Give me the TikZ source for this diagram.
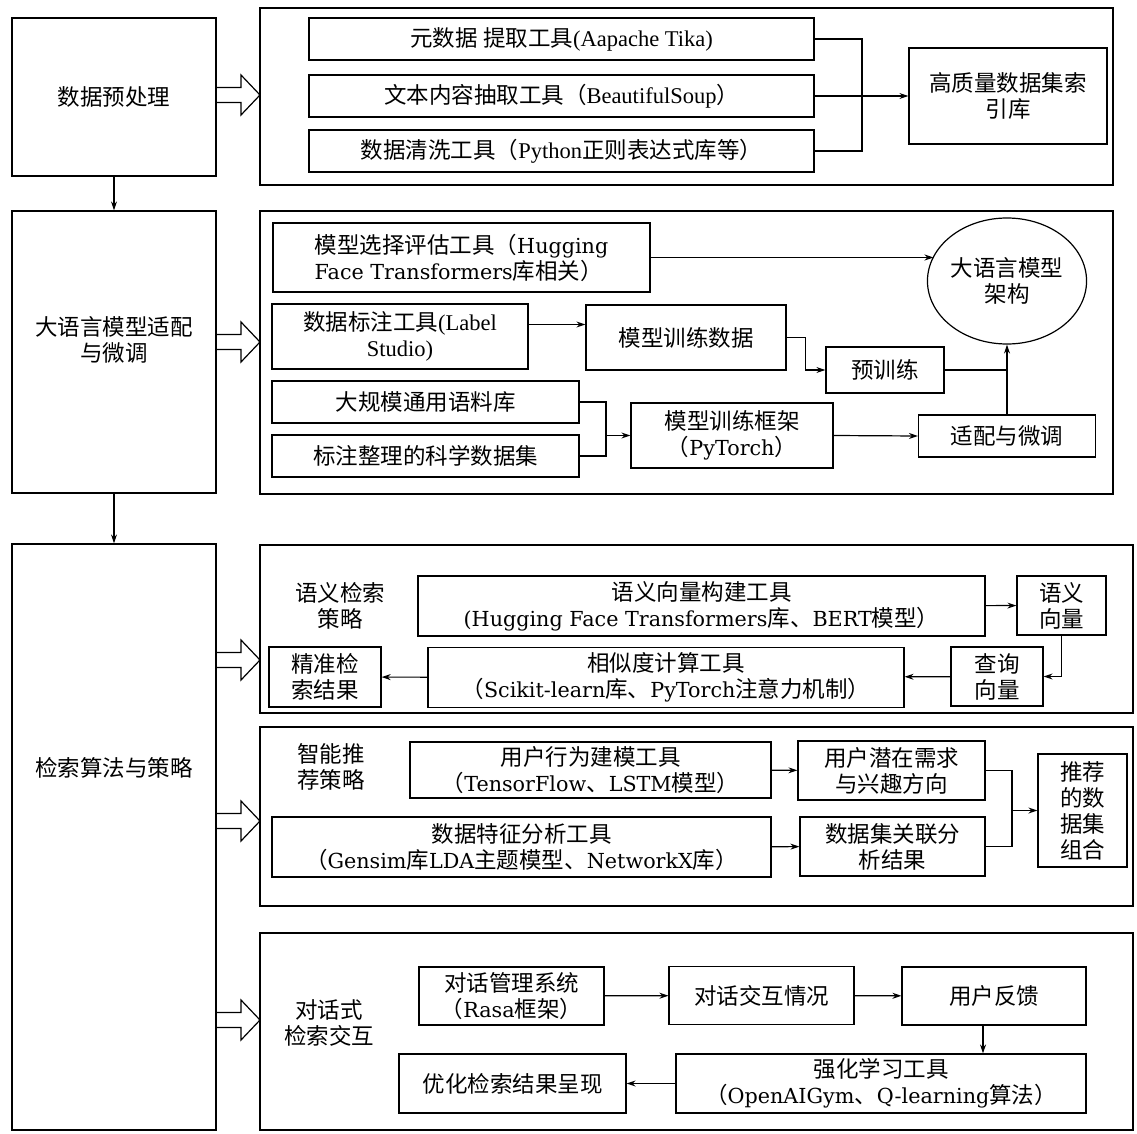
\documentclass[tikz,border=0pt]{standalone}
\usepackage{fontspec}
\setmainfont{DejaVu Serif}[Scale=0.92]
\newfontfamily\cjk{Noto Sans CJK SC}
\newfontfamily\timesf{Liberation Serif}
\usetikzlibrary{shapes.geometric,arrows.meta}

% Chinese characters are switched to the CJK family
\XeTeXinterchartokenstate=1
\newXeTeXintercharclass\cjkclass
\newcount\cjkcode
\def\setcjkrange#1#2{\cjkcode=#1\relax
  \loop\ifnum\cjkcode<#2\relax
    \XeTeXcharclass\cjkcode=\cjkclass
    \advance\cjkcode by 1
  \repeat}
\setcjkrange{"3000}{"3040}
\setcjkrange{"4E00}{"A000}
\setcjkrange{"FF00}{"FF60}
\XeTeXinterchartoks 0 \cjkclass = {\begingroup\cjk}
\XeTeXinterchartoks 4095 \cjkclass = {\begingroup\cjk}
\XeTeXinterchartoks \cjkclass 0 = {\endgroup}
\XeTeXinterchartoks \cjkclass 4095 = {\endgroup}

\begin{document}
\begin{tikzpicture}[x=1pt, y=-1pt, >={Stealth[length=9pt,width=6pt]}]
  \tikzstyle{every node} = [font=\fontsize{22.5}{26}\selectfont]
  \tikzstyle{main} = [rectangle, draw, line width=1.2pt, minimum width=204pt]
  \tikzstyle{back} = [rectangle, draw, line width=1.2pt]
  \tikzstyle{tool} = [rectangle, draw, line width=1.2pt, align=center, inner sep=1pt]
  \tikzstyle{tnr} = [font=\timesf\fontsize{22.5}{26}\selectfont]
  \tikzstyle{plain} = [align=center, inner sep=0pt]
  \tikzstyle{link} = [line width=1.2pt]
  \tikzstyle{hollow} = [draw, line width=1.2pt]
\useasboundingbox (0,0) rectangle (1137,1134);
% left column
\node[main, minimum height=158pt] (prep) at (114,97) {数据预处理};
\node[main, minimum height=282pt, label={[yshift=12pt, align=center]center:大语言模型适配\\与微调}] (llm) at (114,352) {};
\node[main, minimum height=586pt, label={[yshift=69pt]center:检索算法与策略}] (ret) at (114,837) {};
\draw[->, link] (prep) -- (llm);
\draw[->, link] (llm) -- (ret);
% panels
\node[back, minimum width=853pt, minimum height=177pt] (pa) at (686.5,96.5) {};
\node[back, minimum width=853pt, minimum height=283pt] (pb) at (686.5,352.5) {};
\node[back, minimum width=873pt, minimum height=168pt] (pc) at (696.5,629) {};
\node[back, minimum width=873pt, minimum height=179pt] (pd) at (696.5,816.5) {};
\node[back, minimum width=873pt, minimum height=197pt] (pe) at (696.5,1031.5) {};
\foreach \y in {95,342,660,821,1020}
  \draw[hollow] (216,\y-7.5) -- (241,\y-7.5) -- (241,\y-20) -- (260,\y) -- (241,\y+20) -- (241,\y+7.5) -- (216,\y+7.5);
% data preprocessing
\node[tool, tnr, minimum width=505pt, minimum height=42pt] (meta) at (561.5,39) {元数据 提取工具(Aapache Tika)};
\node[tool, tnr, minimum width=505pt, minimum height=42pt] (extract) at (561.5,96) {文本内容抽取工具（BeautifulSoup）};
\node[tool, tnr, minimum width=505pt, minimum height=42pt] (clean) at (561.5,151) {数据清洗工具（Python正则表达式库等）};
\node[tool, minimum width=198pt, minimum height=96pt] (index) at (1008,96) {高质量数据集索\\引库};
\coordinate (m1) at (862,96);
\draw[link] (meta) -| (m1);
\draw[link] (clean) -| (m1);
\draw[->, link] (extract) -- (index);
% model adaptation
\node[tool, align=left, minimum width=377pt, minimum height=69pt] (select) at (461.5,257.5) {模型选择评估工具（Hugging\\Face Transformers库相关）};
\node[ellipse, draw, link, minimum width=154pt, minimum height=126pt, align=center, inner sep=0pt] (arch) at (1007,281) {大语言模型\\架构};
\node[tool, tnr, minimum width=256pt, minimum height=65pt] (label) at (400,336.5) {数据标注工具(Label\\Studio)};
\node[tool, minimum width=200pt, minimum height=65pt] (data) at (686,337.5) {模型训练数据};
\node[tool, minimum width=118pt, minimum height=46pt] (pretrain) at (885,370) {预训练};
\node[tool, minimum width=307pt, minimum height=42pt] (corpus) at (425.5,402) {大规模通用语料库};
\node[tool, minimum width=307pt, minimum height=42pt] (sci) at (425.5,456) {标注整理的科学数据集};
\node[tool, minimum width=202pt, minimum height=65pt] (frame) at (732,435.5) {模型训练框架\\（PyTorch）};
\node[tool, minimum width=177pt, minimum height=42pt] (adapt) at (1007,436) {适配与微调};
\draw[->, link] (select.east) -- (select.east -| arch.161);
\draw[->, link] ([yshift=12pt]label.east) -- ([yshift=12pt]label.east -| data.west);
\draw[->, link] (data.east) -- ++(19,0) |- (pretrain.west);
\draw[link] (pretrain.east) -- (pretrain.east -| adapt.north);
\draw[->, link] (adapt.north) -- (arch.south);
\coordinate (m2) at (606,435.5);
\draw[link] (corpus.east) -| (m2);
\draw[link] (sci.east) -| (m2);
\draw[->, link] (m2) -- (frame.west);
\draw[->, link] (frame.east) -- (adapt.west);
% semantic retrieval
\node[plain] (semtag) at (340,606) {语义检索\\策略};
\node[tool, minimum width=567pt, minimum height=60pt] (vecb) at (701.5,606) {语义向量构建工具\\(Hugging Face Transformers库、BERT模型）};
\node[tool, minimum width=89pt, minimum height=59pt] (semvec) at (1061.5,605.5) {语义\\向量};
\node[tool, minimum width=92pt, minimum height=59pt] (query) at (997,676.5) {查询\\向量};
\node[tool, minimum width=476pt, minimum height=60pt] (sim) at (666,677.5) {相似度计算工具\\（Scikit-learn库、PyTorch注意力机制）};
\node[tool, minimum width=112pt, minimum height=60pt] (result) at (325,677) {精准检\\索结果};
\draw[->, link] (vecb) -- (semvec);
\draw[->, link] (semvec.south) |- (query.east);
\draw[->, link] (query) -- (sim);
\draw[->, link] (sim) -- (result);
% recommendation
\node[plain] (rectag) at (331,767) {智能推\\荐策略};
\node[tool, minimum width=361pt, minimum height=56pt] (behav) at (590.5,770) {用户行为建模工具\\（TensorFlow、LSTM模型）};
\node[tool, minimum width=187pt, minimum height=59pt] (need) at (891.5,770.5) {用户潜在需求\\与兴趣方向};
\node[tool, minimum width=499pt, minimum height=60pt] (feat) at (521.5,847) {数据特征分析工具\\（Gensim库LDA主题模型、NetworkX库）};
\node[tool, minimum width=185pt, minimum height=59pt] (assoc) at (892.5,846.5) {数据集关联分\\析结果};
\node[tool, minimum width=89pt, minimum height=113pt] (combo) at (1082.5,810.5) {推荐\\的数\\据集\\组合};
\coordinate (m3) at (1012,810.5);
\draw[->, link] (behav) -- (need);
\draw[->, link] (feat) -- (assoc);
\draw[link] (need) -| (m3);
\draw[link] (assoc) -| (m3);
\draw[->, link] (m3) -- (combo);
% dialogue
\node[plain] (dlgtag) at (329,1023) {对话式\\检索交互};
\node[tool, minimum width=185pt, minimum height=58pt] (dm) at (511.5,996) {对话管理系统\\（Rasa框架）};
\node[tool, minimum width=185pt, minimum height=58pt] (state) at (761.5,995.5) {对话交互情况};
\node[tool, minimum width=184pt, minimum height=58pt] (feedback) at (994,996) {用户反馈};
\node[tool, minimum width=410pt, minimum height=59pt] (rl) at (881,1083.5) {强化学习工具\\（OpenAIGym、Q-learning算法）};
\node[tool, minimum width=227pt, minimum height=59pt] (opt) at (512.5,1083.5) {优化检索结果呈现};
\draw[->, link] (dm) -- (state);
\draw[->, link] (state) -- (feedback);
\draw[->, link] ([xshift=-11pt]feedback.south) -- ([xshift=-11pt]feedback.south |- rl.north);
\draw[->, link] (rl) -- (opt);
\end{tikzpicture}
\end{document}
